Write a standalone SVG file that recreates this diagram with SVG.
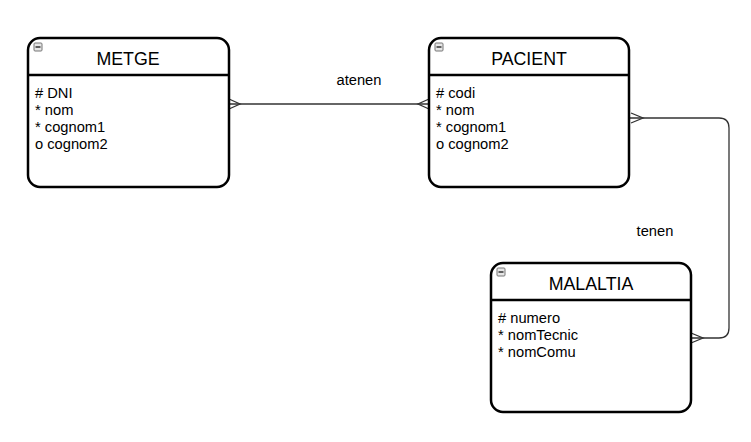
<svg xmlns="http://www.w3.org/2000/svg" width="751" height="442" viewBox="0 0 751 442">
<style>
.box{fill:#fff;stroke:#000;stroke-width:2.5}
.sep{stroke:#000;stroke-width:2.5}
.title{font-family:"Liberation Sans",Arial,sans-serif;font-size:17.8px;fill:#000;text-anchor:middle}
.attr{font-family:"Liberation Sans",Arial,sans-serif;font-size:14.7px;fill:#000}
.lbl{font-family:"Liberation Sans",Arial,sans-serif;font-size:14.7px;fill:#000;text-anchor:middle}
.conn{fill:none;stroke:#333;stroke-width:1.3}
.icon{fill:#e6e6e6;stroke:#777;stroke-width:1}
.minus{stroke:#333;stroke-width:1.5}
</style>
<defs>
<g id="ico"><rect class="icon" x="0" y="0" width="8" height="8" rx="1"/><line class="minus" x1="1.5" y1="4" x2="6.5" y2="4"/></g>
</defs>
<g id="connectors">
<path class="conn" d="M229,104 H429"/>
<path class="conn" d="M229,99 L240,104 L229,109"/>
<path class="conn" d="M429,99 L418,104 L429,109"/>
<path class="conn" d="M629,118 H719 Q729,118 729,128 V328 Q729,338 719,338 H691"/>
<path class="conn" d="M631,113 L643,118 L631,123"/>
<path class="conn" d="M691,333 L703,338 L691,343"/>
<text class="lbl" x="359" y="85">atenen</text>
<text class="lbl" x="655" y="236">tenen</text>
</g>
<g id="metge">
<rect class="box" x="28" y="38" width="201" height="149" rx="12"/>
<line class="sep" x1="28" y1="75" x2="229" y2="75"/>
<use href="#ico" x="34" y="43"/>
<text class="title" x="128" y="65">METGE</text>
<text class="attr" x="35" y="98"># DNI</text>
<text class="attr" x="35" y="115">* nom</text>
<text class="attr" x="35" y="132">* cognom1</text>
<text class="attr" x="35" y="149">o cognom2</text>
</g>
<g id="pacient">
<rect class="box" x="429" y="38" width="200" height="149" rx="12"/>
<line class="sep" x1="429" y1="75" x2="629" y2="75"/>
<use href="#ico" x="435" y="43"/>
<text class="title" x="529" y="65">PACIENT</text>
<text class="attr" x="436" y="98"># codi</text>
<text class="attr" x="436" y="115">* nom</text>
<text class="attr" x="436" y="132">* cognom1</text>
<text class="attr" x="436" y="149">o cognom2</text>
</g>
<g id="malaltia">
<rect class="box" x="491" y="263" width="200" height="149" rx="12"/>
<line class="sep" x1="491" y1="300" x2="691" y2="300"/>
<use href="#ico" x="497" y="268"/>
<text class="title" x="591" y="290">MALALTIA</text>
<text class="attr" x="498" y="323"># numero</text>
<text class="attr" x="498" y="340">* nomTecnic</text>
<text class="attr" x="498" y="357">* nomComu</text>
</g>
</svg>
